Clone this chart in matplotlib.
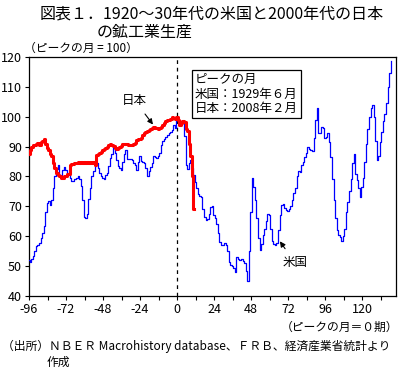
import numpy as np
import matplotlib
matplotlib.use("Agg")
import matplotlib.pyplot as plt

plt.rcParams['font.family'] = ['Noto Sans CJK JP', 'DejaVu Sans']

# ピークの月を0とした経過月数
us_months = list(range(-96, 140))
jp_months = list(range(-96, 12))

# 米国 1920～30年代 (ピーク 1929年6月 = 100)
us_values = [
    52.0, 51.5, 52.5, 53.5, 55.0, 56.8, 57.0, 57.7, 59.5, 61.1, 63.3, 68.0,
    71.0, 71.7, 70.6, 72.2, 76.2, 80.0, 82.5, 84.0, 80.6, 80.1, 82.3, 83.2,
    82.3, 80.6, 81.2, 79.5, 78.4, 78.6, 79.2, 79.5, 80.1, 79.0, 76.7, 72.2,
    66.6, 66.1, 67.5, 72.5, 76.0, 80.1, 82.0, 83.4, 84.6, 82.9, 81.2, 80.0,
    79.5, 79.0, 80.6, 81.2, 83.5, 86.2, 87.5, 89.6, 87.9, 85.5, 83.4, 82.8,
    82.3, 85.0, 87.5, 89.0, 86.0, 85.7, 85.7, 85.5, 84.6, 84.0, 82.3, 85.0,
    87.0, 85.1, 84.8, 84.6, 83.0, 80.3, 82.0, 83.2, 84.5, 87.0, 86.6, 86.2,
    87.0, 87.9, 90.5, 91.8, 92.6, 93.3, 93.8, 94.4, 95.0, 95.7, 97.4, 96.3,
    100.0,
    99.0, 98.5, 98.2, 98.0, 93.5, 84.0, 82.5, 84.5, 85.5, 83.0, 80.6, 78.0,
    76.0, 74.0, 73.6, 73.2, 69.0, 66.5, 65.5, 65.8, 67.5, 69.8, 70.0, 67.2,
    66.0, 64.0, 61.0, 58.0, 57.0, 57.2, 57.7, 57.0, 55.0, 51.5, 50.5, 50.0,
    49.5, 48.0, 53.0, 52.5, 52.0, 52.5, 51.8, 51.0, 48.5, 45.0, 55.0, 68.0,
    79.5, 76.5, 72.0, 66.0, 59.5, 55.5, 57.5, 60.5, 62.5, 65.0, 67.5, 67.2,
    62.5, 58.5, 57.5, 57.0, 57.8, 62.0, 67.0, 70.5, 70.8, 69.5, 68.8, 68.3,
    69.0, 70.0, 72.0, 74.5, 76.0, 80.0, 82.0, 81.5, 84.0, 85.0, 86.5, 88.0,
    90.0, 89.3, 88.8, 88.5, 93.0, 99.0, 102.8, 94.6, 94.6, 96.5, 96.3, 93.0,
    93.2, 94.6, 91.5, 86.5, 79.0, 72.0, 66.0, 62.0, 60.5, 59.8, 58.5, 60.0,
    62.5, 68.0, 71.5, 75.0, 79.0, 84.5, 87.6, 81.0, 78.8, 76.0, 73.0, 76.5,
    79.5, 85.0, 91.0, 96.0, 100.0, 103.0, 104.0, 100.0, 92.0, 85.5, 87.0, 91.5,
    95.0, 98.5, 101.0, 104.5, 110.0, 114.5, 118.7,
]

# 日本 2000年代 (ピーク 2008年2月 = 100)
jp_values = [
    87.5, 89.0, 89.8, 90.5, 90.7, 91.0, 91.3, 90.5, 91.5, 91.8, 92.6, 91.0,
    89.6, 89.0, 87.5, 86.8, 84.6, 83.0, 81.2, 80.5, 80.0, 79.5, 79.6, 80.1,
    80.3, 80.8, 81.0, 84.0, 84.1, 84.2, 84.4, 84.6, 84.7, 84.6, 84.8, 84.6,
    84.9, 84.5, 84.8, 84.6, 84.9, 84.6, 84.7, 84.0, 87.3, 87.6, 87.9, 88.3,
    88.9, 89.2, 89.7, 90.0, 90.4, 90.9, 90.6, 90.1, 89.6, 89.2, 89.4, 89.9,
    90.3, 90.9, 90.8, 91.0, 90.9, 90.7, 90.5, 90.6, 90.9, 91.2, 92.1, 92.4,
    92.7, 93.0, 93.8, 94.4, 94.8, 95.2, 95.6, 96.0, 96.4, 96.6, 96.3, 96.1,
    96.0, 96.1, 96.5, 97.2, 97.8, 98.5, 98.9, 99.0, 99.3, 99.9, 99.5, 99.1,
    100.0,
    98.9, 97.4, 97.8, 98.5, 98.2, 96.0, 95.2, 91.0, 87.0, 80.0, 69.0,
]

x_ticks = list(range(-96, 142, 12))
x_tick_labels = [str(t).replace("−", "-") if t % 24 == 0 else "" for t in x_ticks]
y_ticks = list(range(40, 121, 10))

W, H = 400, 368


def fx(px):
    return px / W


def fy(py):
    return 1 - py / H


fig = plt.figure(figsize=(4, 3.68), dpi=100)
ax = fig.add_axes([fx(29), fy(296), fx(396) - fx(29), fy(57) - fy(296)])

ax.plot(us_months, us_values, color="#0000FF", lw=0.9, drawstyle="steps-mid", zorder=3)
ax.plot(jp_months, jp_values, color="#FF0000", lw=2.2, drawstyle="steps-mid", zorder=4)
ax.axvline(0, color="black", lw=0.9, ls=(0, (3, 3)), zorder=2)

ax.set_xlim(-96, 142)
ax.set_ylim(40, 120)
ax.set_xticks(x_ticks)
ax.set_xticklabels(x_tick_labels, fontsize=9)
ax.set_yticks(y_ticks)
ax.set_yticklabels([str(v) for v in y_ticks], fontsize=9)
ax.tick_params(direction="out", length=3, width=0.8, pad=2)
for sp in ax.spines.values():
    sp.set_linewidth(0.9)

# 吹き出し
ax.annotate("日本", xy=(-15.6, 97.4), xytext=(-27.5, 105.5), fontsize=9,
            ha="center", va="center",
            arrowprops=dict(arrowstyle="-|>", color="black", lw=0.8,
                            mutation_scale=8, shrinkA=4, shrinkB=0))
ax.annotate("米国", xy=(66.7, 58.3), xytext=(76.4, 51.2), fontsize=9,
            ha="center", va="center",
            arrowprops=dict(arrowstyle="-|>", color="black", lw=0.8,
                            mutation_scale=8, shrinkA=4, shrinkB=0))

fig.text(fx(195), fy(94), "ピークの月\n米国：1929年６月\n日本：2008年２月",
         fontsize=9, ha="left", va="center", linespacing=1.15,
         bbox=dict(boxstyle="square,pad=0.25", fc="white", ec="black", lw=0.9))

# タイトル等
fig.text(fx(40), fy(14), "図表１．1920～30年代の米国と2000年代の日本",
         fontsize=11.5, ha="left", va="center")
fig.text(fx(97), fy(32), "の鉱工業生産", fontsize=11.5, ha="left", va="center")
fig.text(fx(24), fy(48), "（ピークの月 = 100）", fontsize=8.5, ha="left", va="center")
fig.text(fx(398), fy(327), "（ピークの月＝０期）", fontsize=8.5, ha="right", va="center")
fig.text(fx(2), fy(346), "（出所）ＮＢＥＲ Macrohistory database、ＦＲＢ、経済産業省統計より",
         fontsize=8.5, ha="left", va="center")
fig.text(fx(47), fy(362), "作成", fontsize=8.5, ha="left", va="center")

fig.savefig("out.png", dpi=100)
